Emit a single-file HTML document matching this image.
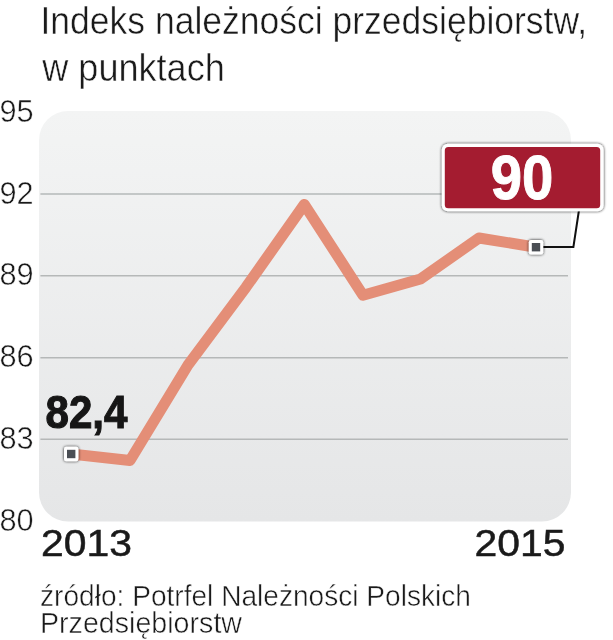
<!DOCTYPE html>
<html lang="pl">
<head>
<meta charset="utf-8">
<title>Indeks należności przedsiębiorstw</title>
<style>
  html, body { margin: 0; padding: 0; background: #ffffff; }
  body { width: 613px; height: 640px; overflow: hidden; font-family: "Liberation Sans", sans-serif; }
  svg { display: block; will-change: transform; }
  text { font-family: "Liberation Sans", sans-serif; }
</style>
</head>
<body>
<svg width="613" height="640" viewBox="0 0 613 640" fill="#1a1a1a">
  <defs>
    <linearGradient id="bg" x1="0" y1="0" x2="0" y2="1">
      <stop offset="0" stop-color="#f3f4f4"/>
      <stop offset="1" stop-color="#e5e6e7"/>
    </linearGradient>
    <filter id="sh" x="-20%" y="-20%" width="140%" height="140%">
      <feGaussianBlur in="SourceAlpha" stdDeviation="1.6"/>
      <feOffset dx="0" dy="0.3" result="b"/>
      <feComponentTransfer><feFuncA type="linear" slope="0.95"/></feComponentTransfer>
      <feMerge><feMergeNode/><feMergeNode in="SourceGraphic"/></feMerge>
    </filter>
  </defs>

  <!-- title -->
  <text id="t1" x="40.5" y="33.9" font-size="39" textLength="546.5" stroke="#fff" stroke-width="0.5" lengthAdjust="spacingAndGlyphs">Indeks należności przedsiębiorstw,</text>
  <text id="t2" x="42.3" y="80.7" font-size="39" textLength="182.5" stroke="#fff" stroke-width="0.5" lengthAdjust="spacingAndGlyphs">w punktach</text>

  <!-- plot background -->
  <rect x="39" y="111" width="532" height="410.5" rx="29" ry="29" fill="url(#bg)"/>

  <!-- grid lines -->
  <g stroke="#b5b8b8" stroke-width="1.5">
    <line x1="40.4" y1="193.9" x2="568" y2="193.9"/>
    <line x1="40.4" y1="275.8" x2="568" y2="275.8"/>
    <line x1="40.4" y1="357.8" x2="568" y2="357.8"/>
    <line x1="40.4" y1="439.2" x2="568" y2="439.2"/>
  </g>

  <!-- y labels -->
  <g font-size="30.5" stroke="#fff" stroke-width="0.5">
    <text id="y95" x="-0.6" y="121.7" textLength="34.2" lengthAdjust="spacingAndGlyphs">95</text>
    <text id="y92" x="-0.6" y="203.7" textLength="34.2" lengthAdjust="spacingAndGlyphs">92</text>
    <text id="y89" x="-0.6" y="285.4" textLength="34.2" lengthAdjust="spacingAndGlyphs">89</text>
    <text id="y86" x="-0.6" y="367.4" textLength="34.2" lengthAdjust="spacingAndGlyphs">86</text>
    <text id="y83" x="-0.6" y="449.0" textLength="34.2" lengthAdjust="spacingAndGlyphs">83</text>
    <text id="y80" x="-0.6" y="531.2" textLength="34.2" lengthAdjust="spacingAndGlyphs">80</text>
  </g>

  <!-- data line -->
  <polyline fill="none" stroke="#e48e77" stroke-width="11" stroke-linejoin="round" stroke-linecap="butt"
    points="71.2,454 130,460.5 188,365 246,287.2 304.3,204.5 363,295.2 420.5,279 479,238 536,247.2"/>

  <!-- connector -->
  <polyline fill="none" stroke="#111111" stroke-width="2" stroke-linejoin="miter"
    points="536,247 573.4,247 579,210"/>

  <!-- markers -->
  <g filter="url(#sh)">
    <rect x="64" y="446.8" width="14.4" height="14.4" rx="2.2" fill="#ffffff"/>
    <rect x="528.8" y="240" width="14.4" height="14.4" rx="2.2" fill="#ffffff"/>
  </g>
  <rect x="67" y="449.8" width="8.4" height="8.4" fill="#4a4e54"/>
  <rect x="531.8" y="243" width="8.4" height="8.4" fill="#4a4e54"/>

  <!-- 82,4 label -->
  <text id="l1" x="45.5" y="428" font-size="47" font-weight="bold" fill="#161616" stroke="#161616" stroke-width="1.1" textLength="82" lengthAdjust="spacingAndGlyphs">82,4</text>

  <!-- red callout -->
  <g filter="url(#sh)">
    <rect x="441.8" y="143.8" width="161.8" height="67.4" rx="6" fill="#ffffff"/>
  </g>
  <rect x="444.8" y="147" width="155.4" height="61.2" rx="3.5" fill="#a41c30"/>
  <text id="l2" x="490.8" y="199.2" font-size="63.5" font-weight="bold" fill="#ffffff" stroke="#ffffff" stroke-width="1" textLength="62.6" lengthAdjust="spacingAndGlyphs">90</text>

  <!-- x labels -->
  <g font-size="37.7" stroke="#1a1a1a" stroke-width="0.5">
    <text id="x1" x="41" y="556" textLength="91" lengthAdjust="spacingAndGlyphs">2013</text>
    <text id="x2" x="474.5" y="556" textLength="91" lengthAdjust="spacingAndGlyphs">2015</text>
  </g>

  <!-- source -->
  <text id="s1" x="40" y="606.3" font-size="29.5" textLength="431" stroke="#fff" stroke-width="0.5" lengthAdjust="spacingAndGlyphs">źródło: Potrfel Należności Polskich</text>
  <text id="s2" x="40" y="633.3" font-size="29.5" textLength="202" stroke="#fff" stroke-width="0.5" lengthAdjust="spacingAndGlyphs">Przedsiębiorstw</text>
</svg>
</body>
</html>
